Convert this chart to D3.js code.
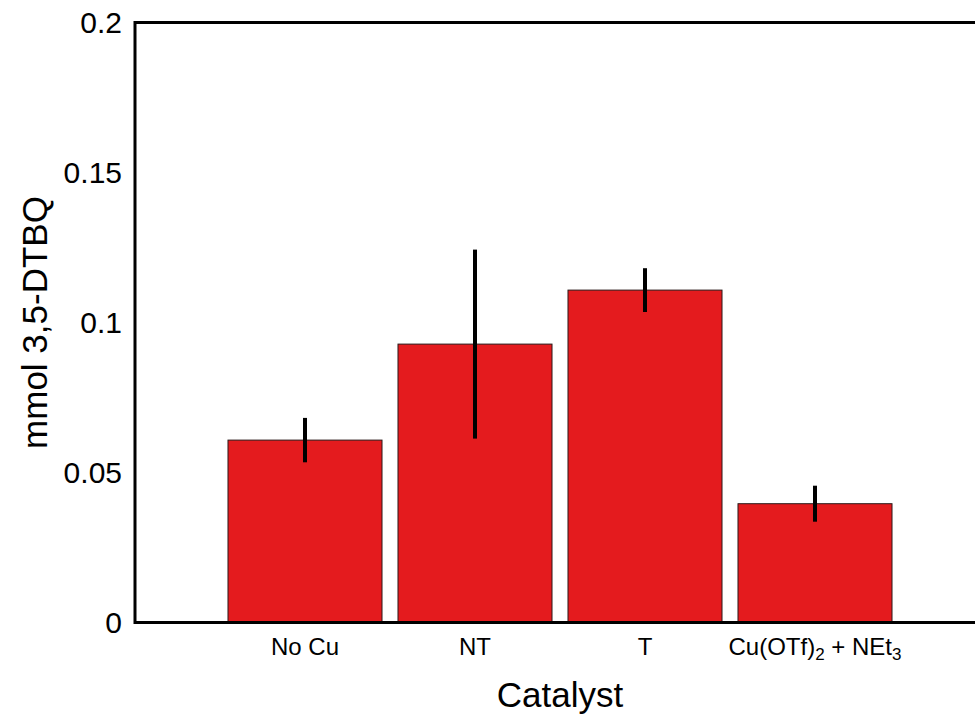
<!DOCTYPE html>
<html>
<head>
<meta charset="utf-8">
<script src="https://cdn.jsdelivr.net/npm/d3@7"></script>
<style>
  html, body { margin: 0; padding: 0; background: #fff; }
  svg { display: block; font-family: "Liberation Sans", Arial, Helvetica, sans-serif; }
</style>
</head>
<body>
<svg id="chart" width="975" height="719"></svg>
<script>
// Catalyst labels; "_n" marks a subscript digit
const categories = ["No Cu", "NT", "T", "Cu(OTf)_2 + NEt_3"];
// Mean amount of 3,5-DTBQ formed (mmol)
const means = [0.0608, 0.0928, 0.1108, 0.0396];
// Error (± half-length of the bar)
const errors = [0.0074, 0.0315, 0.0073, 0.0060];
const yTicks = [0, 0.05, 0.1, 0.15, 0.2];
const yTickLabels = ["0", "0.05", "0.1", "0.15", "0.2"];

const svg = d3.select("#chart");
const plotLeft = 135, plotRight = 985, plotTop = 22.5, plotBottom = 622.5;

const x = d3.scalePoint().domain(categories).range([plotLeft, plotRight]).padding(1);
const y = d3.scaleLinear().domain([0, 0.2]).range([plotBottom, plotTop]);
const barW = x.step() * 0.906;

const data = categories.map((c, i) => ({ c, v: means[i], e: errors[i] }));

// bars
svg.append("g").selectAll("rect").data(data).join("rect")
  .attr("x", d => x(d.c) - barW / 2)
  .attr("y", d => y(d.v))
  .attr("width", barW)
  .attr("height", d => y(0) - y(d.v))
  .attr("fill", "#e41b1e")
  .attr("stroke", "#2a1a1a")
  .attr("stroke-width", 1);

// error bars
svg.append("g").selectAll("line").data(data).join("line")
  .attr("x1", d => x(d.c)).attr("x2", d => x(d.c))
  .attr("y1", d => y(d.v + d.e)).attr("y2", d => y(d.v - d.e))
  .attr("stroke", "#000").attr("stroke-width", 4);

// frame: left, top and bottom lines
svg.append("path")
  .attr("d", `M${plotRight},${y(0.2)}H${plotLeft}V${y(0)}H${plotRight}`)
  .attr("fill", "none")
  .attr("stroke", "#000")
  .attr("stroke-width", 3)
  .attr("stroke-linecap", "square");

// y tick labels (no tick marks)
svg.append("g").selectAll("text").data(yTicks).join("text")
  .attr("x", 122)
  .attr("y", d => y(d))
  .attr("dy", "0.36em")
  .attr("text-anchor", "end")
  .attr("font-size", 30)
  .attr("fill", "#000")
  .text((d, i) => yTickLabels[i]);

// category labels with subscripts
const catG = svg.append("g");
categories.forEach(c => {
  const t = catG.append("text")
    .attr("x", x(c)).attr("y", 655)
    .attr("text-anchor", "middle")
    .attr("font-size", 24)
    .attr("fill", "#000");
  let shift = 0;
  c.split(/(_\d)/).filter(s => s.length).forEach(s => {
    if (s.startsWith("_")) {
      t.append("tspan").attr("font-size", 17).attr("dy", 5 - shift).text(s.slice(1));
      shift = 5;
    } else {
      t.append("tspan").attr("dy", -shift).text(s);
      shift = 0;
    }
  });
});

// axis titles
svg.append("text")
  .attr("x", (plotLeft + plotRight) / 2).attr("y", 707)
  .attr("text-anchor", "middle")
  .attr("font-size", 35)
  .attr("fill", "#000")
  .text("Catalyst");

svg.append("text")
  .attr("transform", `translate(47,${(plotTop + plotBottom) / 2}) rotate(-90)`)
  .attr("text-anchor", "middle")
  .attr("font-size", 35)
  .attr("fill", "#000")
  .text("mmol 3,5-DTBQ");
</script>
</body>
</html>
